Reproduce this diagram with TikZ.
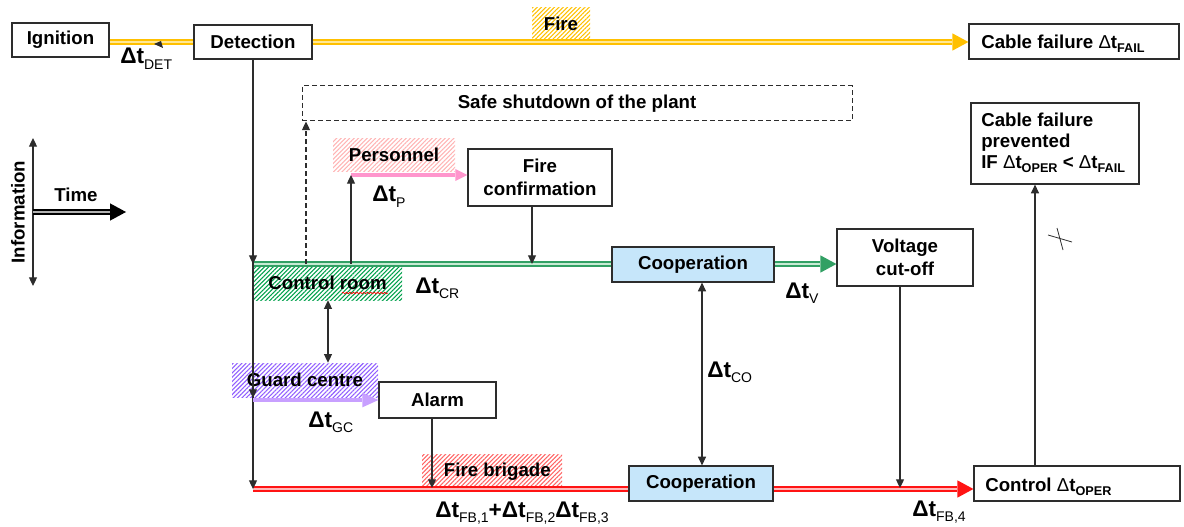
\documentclass[tikz,border=0pt]{standalone}
\usepackage{fontspec}
\setmainfont{Liberation Sans}
\usetikzlibrary{arrows.meta,patterns.meta,decorations.pathmorphing}
\definecolor{fyel}{RGB}{255,192,0}
\definecolor{fyelL}{RGB}{255,232,150}
\definecolor{cgreen}{RGB}{50,160,100}
\definecolor{cgreenL}{RGB}{200,235,212}
\definecolor{hgreen}{RGB}{0,160,75}
\definecolor{cred}{RGB}{255,20,20}
\definecolor{credL}{RGB}{255,185,185}
\definecolor{hred}{RGB}{255,100,100}
\definecolor{hpink}{RGB}{255,180,180}
\definecolor{cpink}{RGB}{255,150,205}
\definecolor{cpurple}{RGB}{200,160,255}
\definecolor{hpurple}{RGB}{145,95,255}
\definecolor{cblue}{RGB}{198,230,250}
\definecolor{dgray}{RGB}{45,45,45}
\newcommand\lsub[1]{\raisebox{-4pt}{\fontsize{10.5}{10.5}\selectfont\mdseries #1}}
\newcommand\bsub[1]{\raisebox{-3pt}{\fontsize{9.5}{9.5}\selectfont\bfseries #1}}
\newcommand\thD{{\mdseries Δ}}
\begin{document}
\begin{tikzpicture}[x=0.75pt,y=-0.75pt,
  rect/.style n args={4}{at={({(#1+#3)/2},{(#2+#4)/2})}, minimum width={(#3-#1)*0.75pt}, minimum height={(#4-#2)*0.75pt}},
  box/.style={draw=dgray, line width=0.9pt, fill=white, inner sep=0pt, font=\bfseries\fontsize{14}{17}\selectfont, align=center},
  hatch/.style={inner sep=0pt, font=\bfseries\fontsize{14}{17}\selectfont, pattern={Lines[angle=45,distance=2.3pt,line width=0.8pt]}},
  conn/.style={draw=dgray, line width=0.9pt, -{Triangle[length=6.5pt,width=6pt]}},
  dconn/.style={draw=dgray, line width=0.9pt, {Triangle[length=6.5pt,width=6pt]}-{Triangle[length=6.5pt,width=6pt]}},
  lbl/.style={font=\bfseries\fontsize{17}{19}\selectfont, inner sep=0pt, anchor=base west},
  btxt/.style={font=\bfseries\fontsize{14}{17}\selectfont, inner sep=0pt},
  yl/.style={draw=fyel, line width=3.8pt},
  ylin/.style={draw=fyelL, line width=1.1pt},
  gl/.style={draw=cgreen, line width=3.8pt},
  glin/.style={draw=cgreenL, line width=1.1pt},
  rl/.style={draw=cred, line width=3.8pt},
  rlin/.style={draw=credL, line width=1.1pt},
  bigtip/.style={-{Triangle[length=12pt 0 0,width=13pt 0 0,line width=0pt]}},
]
\useasboundingbox (0,0) rectangle (1184,527);

% hatched labels
\node[hatch, pattern color=fyel, rect={532}{8}{590}{40}] (fire) {Fire};
\node[hatch, pattern color=hpink, rect={333}{139}{455}{172}] (pers) {\raisebox{1.5pt}{Personnel}};
\node[hatch, pattern color=hgreen, rect={253}{266}{402}{300}] (ctl) {Control room};
\node[hatch, pattern color=hpurple, rect={232}{363}{378}{397}] (gcb) {Guard centre};
\node[hatch, pattern color=hred, rect={422}{454}{562}{489}] (fbr) {\hspace*{8pt}Fire brigade};
\draw[red, line width=0.5pt, decorate, decoration={snake, amplitude=0.6pt, segment length=2.6pt}] (342,293) -- (388,293);

% boxes
\node[box, rect={12}{23}{109}{57}] (ign) {Ignition};
\node[box, rect={194}{25}{312}{59}] (det) {Detection};
\node[box, rect={969}{24}{1179}{59}] (cab) {};
\node[btxt, anchor=base west] (cabt) at (981,49) {Cable failure \thD t\bsub{FAIL}};
\node[box, dashed, line width=0.75pt, dash pattern=on 3.5pt off 2.5pt, rect={302}{86}{852}{121}] (safe) {Safe shutdown of the plant};
\node[box, rect={468}{149}{612}{206}] (conf) {Fire\\confirmation};
\node[box, fill=cblue, rect={612}{247}{774}{282}] (coopT) {Cooperation};
\node[box, rect={837}{229}{973}{286}] (volt) {Voltage\\cut-off};
\node[box, rect={379}{382}{496}{418}] (alarm) {Alarm};
\node[box, fill=cblue, rect={629}{466}{773}{501}] (coopB) {Cooperation};
\node[box, rect={974}{466}{1180}{501}] (ctrl) {};
\node[btxt, anchor=base west] (ctrlt) at (985,491) {Control \thD t\bsub{OPER}};
\node[box, rect={971}{103}{1139}{184}] (prev) {};
\node[btxt, anchor=west, align=left, font=\bfseries\fontsize{14}{15.75}\selectfont] (prevt) at (981,143) {Cable failure\\prevented\\IF \thD t\bsub{OPER} < \thD t\bsub{FAIL}};

% yellow fire line
\draw[yl] (ign.east |- det.west) -- (det.west);
\draw[ylin] (ign.east |- det.west) -- (det.west);
\draw[yl, bigtip] (det.east) -- (cab.west |- det.east);
\draw[ylin, shorten >=12pt] (det.east) -- (cab.west |- det.east);
\fill[dgray] (154,44) -- (161,41) -- (163,48) -- cycle;

% green control-room line
\coordinate (g0) at (253,264);
\draw[gl] (g0) -- (coopT.west |- g0);
\draw[glin] (g0) -- (coopT.west |- g0);
\draw[gl, bigtip] (coopT.east |- g0) -- (volt.west |- g0);
\draw[glin, shorten >=12pt] (coopT.east |- g0) -- (volt.west |- g0);

% red fire-brigade line
\coordinate (r0) at (253,489);
\draw[rl] (r0) -- (coopB.west |- r0);
\draw[rlin] (r0) -- (coopB.west |- r0);
\draw[rl, bigtip] (coopB.east |- r0) -- (ctrl.west |- r0);
\draw[rlin, shorten >=12pt] (coopB.east |- r0) -- (ctrl.west |- r0);

% detection arrows
\coordinate (gcTip) at (253,398);
\draw[conn] (det.south) -- (g0);
\draw[conn] (det.south) -- (gcTip);
\draw[conn] (det.south) -- (r0);

% purple and pink arrows
\coordinate (pu0) at (253,400);
\draw[draw=cpurple, line width=3pt, -{Triangle[length=12pt 0 0,width=11pt 0 0,line width=0pt]}] (pu0) -- (alarm.west |- pu0);
\coordinate (pk0) at (351,175);
\draw[draw=cpink, line width=2.4pt, -{Triangle[length=9pt 0 0,width=9pt 0 0,line width=0pt]}] (pk0) -- (conf.west |- pk0);

% thin connectors
\coordinate (pp0) at (351,264);
\draw[conn] (pp0) -- (pk0);
\coordinate (ds0) at (306,264);
\draw[conn, dashed, dash pattern=on 3.5pt off 2.5pt] (ds0) -- (safe.south -| ds0);
\coordinate (cf0) at (532,264);
\draw[conn] (conf.south -| cf0) -- (cf0);
\coordinate (cg) at (328,0);
\draw[dconn] (ctl.south -| cg) -- (gcb.north -| cg);
\coordinate (co) at (702,0);
\draw[dconn] (coopT.south -| co) -- (coopB.north -| co);
\coordinate (vv) at (900,488);
\draw[conn] (volt.south -| vv) -- (vv);
\coordinate (aa) at (432,488);
\draw[conn] (alarm.south -| aa) -- (aa);
\coordinate (cp) at (1035,0);
\draw[conn] (ctrl.north -| cp) -- (prev.south -| cp);
\draw[dgray, line width=0.6pt] (1048,235) -- (1072,242) (1057,228) -- (1063,250);

% legend
\coordinate (i0) at (33,138);
\coordinate (i1) at (33,286);
\draw[dconn] (i0) -- (i1);
\coordinate (t0) at (33,212);
\coordinate (t1) at (126,212);
\draw[black, line width=4.2pt, bigtip] (t0) -- (t1);
\draw[gray!60, line width=1.3pt, shorten >=12pt] (t0) -- (t1);
\node[btxt, rotate=90] (info) at (18,212) {Information};
\node[btxt] (time) at (76,195) {Time};

% time labels
\node[lbl] (lDET) at (120,64) {Δt\lsub{DET}};
\node[lbl] (lP) at (372,202) {Δt\lsub{P}};
\node[lbl] (lCR) at (415,293) {Δt\lsub{CR}};
\node[lbl] (lV) at (785,298) {Δt\lsub{V}};
\node[lbl] (lGC) at (308,427) {Δt\lsub{GC}};
\node[lbl] (lCO) at (707,377) {Δt\lsub{CO}};
\node[lbl] (lFB4) at (912,516) {Δt\lsub{FB,4}};
\node[lbl] (lFB) at (435,517) {Δt\lsub{FB,1}+Δt\lsub{FB,2}Δt\lsub{FB,3}};
\end{tikzpicture}
\end{document}
